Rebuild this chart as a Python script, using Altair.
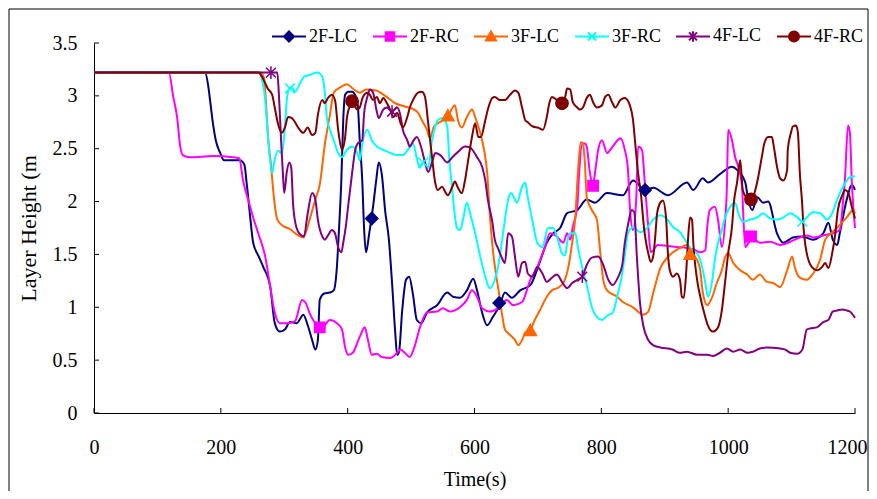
import altair as alt
import pandas as pd

FONT = "Liberation Serif"
SERIES = ["2F-LC", "2F-RC", "3F-LC", "3F-RC", "4F-LC", "4F-RC"]
COLORS = ["#000080", "#FF00FF", "#FF6600", "#00FFFF", "#800080", "#800000"]

X_TICKS = [0, 200, 400, 600, 800, 1000, 1200]
Y_TICKS = [0, 0.5, 1, 1.5, 2, 2.5, 3, 3.5]

# (time s, layer height m)
pts_2f_lc = [(0,3.22),(175,3.22),(180,3.10),(183,2.96),(188,2.72),(192,2.58),(199,2.46),(205,2.39),(230,2.39),(237,2.35),
    (241,2.16),(246,1.87),(251,1.61),(259,1.49),(267,1.38),(278,1.19),(285,0.85),(293,0.77),(301,0.79),(309,0.86),
    (320,0.85),(330,0.93),(337,0.83),(344,0.69),(349,0.60),(353,0.69),(356,1.07),(363,1.13),(372,1.14),(378,1.16),
    (383,1.38),(386,1.70),(390,2.20),(393,2.77),(396,3.01),(401,3.04),(407,3.04),(413,2.99),(416,2.91),(419,2.58),
    (423,2.20),(426,1.73),(429,1.52),(434,1.70),(440,1.95),(445,2.20),(449,2.37),(454,2.25),(459,1.92),(465,1.64),
    (470,1.23),(475,0.76),(478,0.55),(481,0.58),(486,0.97),(492,1.26),(497,1.29),(503,1.12),(509,0.88),(516,0.85),
    (525,0.95),(541,1.02),(557,1.14),(566,1.10),(577,1.09),(588,1.16),(598,1.27),(604,1.16),(612,0.95),(620,0.83),
    (629,0.91),(640,1.02),(648,1.14),(659,1.09),(672,1.16),(688,1.21),(703,1.43),(714,1.61),(724,1.70),(735,1.75),
    (746,1.89),(762,1.92),(777,2.02),(790,1.99),(809,2.08),(834,2.06),(850,2.20),(869,2.11),(882,2.13),(905,2.06),
    (935,2.18),(945,2.11),(960,2.22),(968,2.18),(987,2.26),(1006,2.33),(1014,2.30),(1027,2.18),(1031,2.04),(1038,1.92),
    (1046,2.04),(1055,1.99),(1063,2.00),(1077,1.70),(1087,1.61),(1102,1.66),(1117,1.67),(1134,1.64),(1145,1.67),(1150,1.70),
    (1158,1.80),(1165,1.64),(1172,1.59),(1176,1.70),(1187,2.02),(1195,2.16),(1200,2.11)]

pts_2f_rc = [(0,3.22),(118,3.22),(125,2.99),(131,2.80),(136,2.52),(140,2.44),(151,2.42),(188,2.43),(219,2.42),(229,2.41),
    (235,2.20),(243,2.02),(251,1.85),(259,1.70),(270,1.48),(278,1.19),(285,0.95),(293,0.85),(304,0.85),(317,0.87),
    (328,1.07),(333,1.05),(341,0.93),(352,0.83),(360,0.81),(372,0.88),(383,0.85),(391,0.79),(396,0.62),(401,0.55),
    (408,0.57),(419,0.72),(427,0.81),(432,0.69),(438,0.55),(446,0.56),(454,0.53),(467,0.52),(478,0.57),(483,0.60),
    (490,0.57),(498,0.53),(505,0.62),(514,0.81),(525,0.95),(541,0.96),(550,0.99),(561,0.96),(577,1.00),(588,1.07),
    (596,1.16),(604,1.10),(612,0.99),(624,0.96),(637,0.99),(651,1.07),(661,1.02),(675,1.05),(688,1.26),(699,1.38),
    (711,1.57),(719,1.70),(730,1.67),(740,1.61),(746,1.70),(751,1.64),(755,1.76),(762,1.95),(765,2.27),(770,2.55),
    (774,2.55),(777,2.52),(782,2.27),(787,2.16),(790,2.27),(795,2.49),(801,2.58),(809,2.46),(818,2.52),(830,2.60),
    (837,2.49),(842,2.30),(845,1.95),(850,1.73),(855,2.02),(858,2.52),(864,2.49),(869,2.14),(874,1.76),(878,1.52),
    (882,1.54),(889,1.59),(904,1.58),(919,1.57),(935,1.56),(948,1.54),(956,1.52),(964,1.54),(967,1.76),(971,1.92),
    (979,1.95),(984,1.83),(990,1.57),(995,1.80),(998,2.14),(1000,2.68),(1006,2.58),(1011,2.42),(1016,2.33),(1022,2.14),
    (1023,1.99),(1027,1.57),(1038,1.66),(1050,1.61),(1066,1.62),(1082,1.59),(1098,1.62),(1113,1.66),(1124,1.68),(1134,1.66),
    (1150,1.68),(1165,1.70),(1176,1.73),(1181,1.99),(1184,2.20),(1189,2.72),(1192,2.65),(1195,2.18),(1200,1.75)]

pts_3f_lc = [(0,3.22),(262,3.22),(268,3.17),(271,2.96),(274,2.65),(279,2.35),(284,2.02),(289,1.83),(298,1.77),(309,1.74),
    (322,1.68),(330,1.66),(334,1.71),(341,1.85),(349,2.02),(356,2.16),(364,2.54),(372,2.82),(378,3.03),(388,3.08),
    (399,3.11),(408,3.07),(419,3.03),(429,3.06),(445,3.05),(459,3.00),(475,2.93),(490,2.90),(505,2.87),(511,2.84),
    (517,2.77),(525,2.68),(530,2.60),(536,2.71),(550,2.77),(561,2.84),(569,2.91),(574,2.77),(580,2.70),(588,2.80),
    (596,2.87),(601,2.80),(609,2.65),(615,2.49),(620,2.27),(624,1.89),(629,1.54),(634,1.31),(639,1.12),(643,0.95),
    (648,0.79),(656,0.74),(664,0.69),(669,0.64),(675,0.69),(680,0.76),(688,0.79),(695,0.88),(703,0.97),(714,1.10),
    (722,1.16),(730,1.18),(740,1.23),(748,1.38),(754,1.61),(759,1.85),(763,2.27),(768,2.56),(771,2.55),(774,2.37),
    (777,2.04),(785,1.92),(793,1.83),(798,1.54),(803,1.26),(809,1.16),(825,1.10),(834,1.05),(850,1.00),(866,0.93),
    (874,0.96),(882,1.14),(893,1.37),(904,1.47),(913,1.52),(924,1.56),(935,1.59),(943,1.50),(951,1.45),(956,1.35),
    (960,1.14),(967,1.02),(975,1.10),(982,1.23),(990,1.35),(995,1.47),(1000,1.51),(1008,1.42),(1019,1.35),(1030,1.31),
    (1039,1.26),(1050,1.31),(1061,1.24),(1071,1.23),(1082,1.19),(1093,1.35),(1101,1.48),(1105,1.38),(1113,1.28),(1124,1.26),
    (1134,1.32),(1145,1.45),(1153,1.64),(1164,1.71),(1173,1.76),(1187,1.85),(1197,1.92),(1200,1.89)]

pts_3f_rc = [(0,3.22),(259,3.22),(265,3.15),(270,2.96),(273,2.72),(276,2.49),(281,2.27),(284,2.37),(290,2.48),(296,2.46),
    (301,2.70),(304,2.96),(308,3.07),(312,3.08),(317,3.04),(325,3.12),(331,3.18),(341,3.20),(352,3.22),(360,3.18),
    (364,3.03),(367,2.80),(372,2.68),(378,2.58),(385,2.46),(391,2.42),(399,2.49),(407,2.52),(415,2.46),(419,2.39),
    (424,2.58),(431,2.68),(438,2.58),(446,2.52),(456,2.49),(467,2.46),(478,2.44),(487,2.44),(495,2.49),(503,2.55),
    (509,2.41),(514,2.32),(519,2.37),(527,2.32),(533,2.58),(538,2.71),(542,2.77),(550,2.79),(557,2.71),(560,2.42),
    (565,2.11),(568,1.92),(572,1.76),(577,1.73),(582,1.83),(588,1.99),(593,1.89),(601,1.70),(609,1.48),(617,1.29),
    (624,1.18),(632,1.26),(637,1.38),(643,1.61),(648,1.83),(653,2.02),(658,2.08),(662,2.04),(667,1.99),(675,2.14),
    (680,2.18),(684,2.04),(691,1.83),(699,1.61),(707,1.57),(716,1.75),(724,1.75),(730,1.67),(738,1.51),(743,1.49),
    (746,1.61),(751,1.70),(759,1.70),(763,1.57),(771,1.35),(779,1.16),(785,1.00),(793,0.91),(801,0.88),(809,0.92),
    (818,0.95),(825,1.10),(833,1.32),(837,1.49),(842,1.70),(850,1.76),(861,1.71),(872,1.75),(882,1.83),(893,1.87),
    (904,1.83),(913,1.76),(924,1.71),(935,1.61),(943,1.54),(951,1.51),(959,1.38),(964,1.23),(968,1.10),(975,1.26),
    (979,1.45),(984,1.61),(990,1.73),(995,1.85),(1003,1.95),(1011,1.99),(1016,1.89),(1023,1.81),(1035,1.83),(1046,1.85),
    (1055,1.89),(1066,1.84),(1077,1.83),(1087,1.85),(1098,1.89),(1109,1.85),(1117,1.81),(1124,1.85),(1134,1.90),(1145,1.89),
    (1156,1.83),(1164,1.89),(1172,2.02),(1181,2.14),(1192,2.23),(1200,2.24)]

pts_4f_lc = [(0,3.22),(289,3.22),(292,2.96),(295,2.58),(298,2.25),(300,2.08),(304,2.28),(308,2.37),(311,2.32),(314,1.97),
    (319,1.76),(325,1.69),(331,1.67),(337,1.89),(344,2.08),(349,2.02),(353,1.83),(360,1.67),(364,1.64),(369,1.68),
    (375,1.73),(380,1.70),(385,1.57),(390,1.52),(393,1.61),(397,1.76),(401,1.97),(407,2.27),(412,2.49),(416,2.55),
    (423,2.58),(426,2.84),(431,2.99),(435,3.06),(440,3.03),(446,2.85),(449,2.79),(456,2.87),(462,2.89),(470,2.85),
    (478,2.89),(483,2.82),(487,2.68),(494,2.58),(498,2.52),(503,2.57),(509,2.61),(517,2.49),(522,2.37),(527,2.28),
    (533,2.37),(538,2.46),(546,2.44),(557,2.37),(565,2.42),(574,2.47),(585,2.52),(593,2.51),(604,2.42),(612,2.33),
    (617,2.20),(621,2.02),(628,1.81),(632,1.64),(637,1.56),(643,1.47),(648,1.42),(653,1.70),(659,1.67),(664,1.47),
    (669,1.29),(675,1.42),(680,1.43),(684,1.32),(691,1.29),(699,1.38),(707,1.32),(714,1.24),(722,1.28),(730,1.31),
    (738,1.24),(746,1.18),(754,1.23),(762,1.26),(770,1.29),(777,1.40),(785,1.47),(795,1.48),(803,1.40),(811,1.26),
    (818,1.21),(826,1.28),(833,1.40),(837,1.61),(842,1.78),(848,1.92),(852,1.90),(856,1.48),(861,1.04),(866,0.83),
    (874,0.69),(882,0.64),(893,0.62),(912,0.60),(924,0.57),(935,0.58),(951,0.55),(967,0.55),(976,0.54),(987,0.57),
    (998,0.61),(1008,0.58),(1019,0.60),(1030,0.57),(1039,0.58),(1050,0.61),(1061,0.62),(1082,0.61),(1090,0.60),(1098,0.57),
    (1109,0.56),(1117,0.60),(1124,0.79),(1129,0.80),(1140,0.81),(1150,0.86),(1158,0.88),(1165,0.96),(1172,0.97),(1180,0.98),
    (1187,0.97),(1192,0.96),(1200,0.90)]

pts_4f_rc = [(0,3.22),(259,3.22),(265,3.18),(270,3.12),(274,3.07),(281,3.01),(285,2.89),(290,2.74),(296,2.65),(301,2.70),
    (306,2.80),(312,2.79),(317,2.75),(322,2.70),(330,2.65),(337,2.70),(344,2.63),(349,2.65),(353,2.82),(360,2.96),
    (364,2.93),(369,2.98),(375,3.01),(380,2.96),(385,2.68),(391,2.49),(396,2.61),(399,2.80),(404,2.91),(408,2.94),
    (415,2.87),(419,2.89),(424,2.99),(431,3.03),(435,3.01),(440,2.96),(446,2.99),(451,2.93),(456,2.98),(462,2.93),
    (467,2.87),(472,2.80),(478,2.84),(483,2.75),(487,2.70),(494,2.80),(498,2.89),(503,2.96),(511,3.03),(517,3.04),
    (522,2.99),(527,2.74),(533,2.42),(538,2.18),(542,2.11),(549,2.14),(554,2.09),(558,2.06),(565,2.14),(569,2.19),
    (574,2.13),(580,2.08),(585,2.20),(590,2.39),(596,2.61),(601,2.74),(606,2.61),(610,2.61),(617,2.77),(621,2.87),
    (628,2.98),(632,2.99),(640,2.96),(648,2.96),(656,3.01),(664,3.05),(669,3.03),(675,2.89),(680,2.77),(684,2.75),
    (692,2.71),(700,2.70),(708,2.68),(714,2.80),(718,2.93),(722,2.99),(730,2.96),(738,2.93),(743,2.99),(746,3.07),
    (751,3.06),(755,2.94),(762,2.89),(766,2.87),(771,2.89),(777,2.98),(782,3.01),(787,2.94),(793,2.89),(801,2.91),
    (806,2.99),(811,3.01),(817,2.94),(822,2.89),(830,2.96),(837,2.98),(845,2.91),(850,2.77),(853,2.58),(858,2.27),
    (863,2.04),(866,1.83),(869,1.67),(874,1.51),(878,1.43),(882,1.49),(885,1.67),(888,1.89),(893,1.99),(897,2.01),
    (902,1.85),(905,1.51),(908,1.35),(913,1.29),(919,1.32),(924,1.26),(927,1.10),(930,1.09),(934,1.35),(937,1.67),
    (940,1.85),(943,1.83),(945,1.61),(951,1.26),(956,1.10),(962,0.95),(968,0.83),(976,0.77),(984,0.81),(990,0.97),
    (995,1.23),(1000,1.51),(1006,1.76),(1009,1.99),(1014,2.18),(1019,2.39),(1023,2.11),(1031,2.03),(1038,2.02),(1042,2.09),
    (1047,2.22),(1053,2.42),(1057,2.55),(1063,2.61),(1069,2.61),(1072,2.52),(1077,2.33),(1082,2.22),(1087,2.20),(1093,2.30),
    (1094,2.49),(1099,2.65),(1102,2.71),(1107,2.72),(1110,2.65),(1113,2.27),(1117,1.95),(1118,1.83),(1124,1.51),(1132,1.38),
    (1140,1.35),(1148,1.38),(1153,1.42),(1158,1.37),(1164,1.51),(1169,1.70),(1173,1.92),(1180,2.06),(1184,2.11),(1189,2.09),
    (1195,1.95),(1200,1.84)]

SERIES_POINTS = [pts_2f_lc, pts_2f_rc, pts_3f_lc, pts_3f_rc, pts_4f_lc, pts_4f_rc]

# sparse markers
mk_series = ["2F-LC"]*3 + ["2F-RC"]*3 + ["3F-LC"]*3 + ["3F-RC"]*3 + ["4F-LC"]*3 + ["4F-RC"]*3
mk_t = [438, 639, 869, 356, 787, 1036, 558, 688, 940, 309, 519, 1117, 279, 470, 770, 407, 738, 1036]
mk_y = [1.84, 1.04, 2.11, 0.81, 2.15, 1.67, 2.81, 0.78, 1.50, 3.07, 2.37, 1.81, 3.22, 2.85, 1.29, 2.95, 2.93, 2.02]

MARK_PATHS = [
    "M0,-1L1,0L0,1L-1,0Z",
    "M-0.85,-0.85L0.85,-0.85L0.85,0.85L-0.85,0.85Z",
    "M0,-1L1,0.8L-1,0.8Z",
    "M-0.8,-0.8L0.8,0.8M-0.8,0.8L0.8,-0.8",
    "M-0.8,-0.8L0.8,0.8M-0.8,0.8L0.8,-0.8M0,-1.05L0,1.05",
    "M1,0A1,1,0,1,1,-1,0A1,1,0,1,1,1,0Z",
]
LEGEND_PATHS = ["M-3.4,0L3.4,0" + p for p in MARK_PATHS]

X_ENC = alt.X("t:Q", scale=alt.Scale(domain=[0, 1200], nice=False, zero=False),
              axis=alt.Axis(values=X_TICKS, format="d", title="Time(s)", labelPadding=24,
                            labelFlush=False, titlePadding=12,
                            labelOffset={"condition": {"test": "datum.value == 1200", "value": -8},
                                         "value": 0}))
Y_ENC = alt.Y("y:Q", scale=alt.Scale(domain=[0, 3.5], nice=False),
              axis=alt.Axis(values=Y_TICKS, format="~g", title="Layer Height (m", labelPadding=17,
                            labelFlush=False, titlePadding=12, titleFontSize=22))

layers = []

# inward tick marks
layers.append(alt.Chart(pd.DataFrame({"t": X_TICKS})).mark_rule(color="black", strokeWidth=1).encode(
    x=X_ENC, y=alt.value(370), y2=alt.value(365)))
layers.append(alt.Chart(pd.DataFrame({"y": Y_TICKS})).mark_rule(color="black", strokeWidth=1).encode(
    y=Y_ENC, x=alt.value(0), x2=alt.value(5)))

for pts, col in zip(SERIES_POINTS, COLORS):
    df = pd.DataFrame(pts, columns=["t", "y"])
    layers.append(alt.Chart(df).mark_line(color=col, strokeWidth=2, interpolate="monotone").encode(
        x=X_ENC, y=Y_ENC))

mk = pd.DataFrame({"series": mk_series, "t": mk_t, "y": mk_y})
for s, col, path in zip(SERIES, COLORS, MARK_PATHS):
    layers.append(alt.Chart(mk[mk.series == s]).mark_point(
        shape=path, filled=True, fill=col, stroke=col, strokeWidth=1.5, size=150, opacity=1).encode(
        x=X_ENC, y=Y_ENC))

LEG = alt.Legend(title=None, orient="none", legendX=186, legendY=-16, direction="horizontal",
                 columns=6, symbolSize=100, symbolStrokeWidth=2, symbolOpacity=1,
                 labelFont=FONT, labelFontSize=18, labelColor="black", labelOffset=11,
                 columnPadding=10, padding=0, gridAlign="all")
layers.append(alt.Chart(mk).mark_point(filled=True, opacity=0).encode(
    x=X_ENC, y=Y_ENC,
    fill=alt.Fill("series:N", scale=alt.Scale(domain=SERIES, range=COLORS), legend=LEG),
    stroke=alt.Stroke("series:N", scale=alt.Scale(domain=SERIES, range=COLORS), legend=LEG),
    shape=alt.Shape("series:N", scale=alt.Scale(domain=SERIES, range=LEGEND_PATHS), legend=LEG),
))

# outer frame
layers.append(alt.Chart(pd.DataFrame({"a": [0]})).mark_rect(
    fill="white", fillOpacity=0, stroke="black", strokeWidth=1).encode(
    x=alt.value(-85), x2=alt.value(774), y=alt.value(-34), y2=alt.value(480)))

chart = alt.layer(*layers).properties(
    width=761, height=370,
    padding={"left": 86, "top": 35, "right": 14, "bottom": 78},
    autosize=alt.AutoSizeParams(type="none"),
    background="white",
).configure_view(stroke=None).configure_axis(
    grid=False, ticks=False, tickSize=0, domainColor="black", domainWidth=1,
    labelFont=FONT, labelFontSize=20, labelColor="black",
    titleFont=FONT, titleFontSize=20, titleFontWeight="normal", titleColor="black",
)

chart.save("out.html", embed_options={"renderer": "svg", "actions": False})
